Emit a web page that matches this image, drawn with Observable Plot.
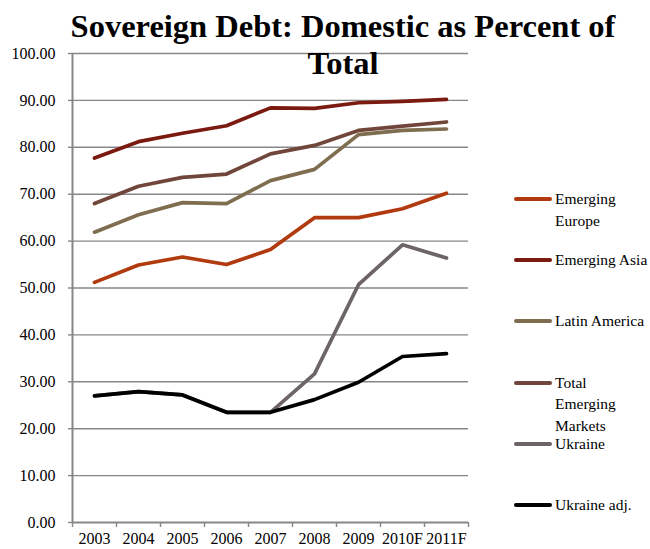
<!DOCTYPE html>
<html><head><meta charset="utf-8">
<script src="https://cdn.jsdelivr.net/npm/d3@7"></script>
<script src="https://cdn.jsdelivr.net/npm/@observablehq/plot@0.6"></script>
<style>
html,body{margin:0;padding:0;background:#fff;}
#wrap{position:relative;width:650px;height:549px;overflow:hidden;}
.title{position:absolute;left:0;width:686px;text-align:center;font-family:"Liberation Serif","Times New Roman",serif;font-weight:bold;font-size:32.5px;line-height:1;white-space:nowrap;color:#000;}
.leg{position:absolute;left:514px;font-family:"Liberation Serif","Times New Roman",serif;font-size:15.5px;line-height:21.5px;color:#000;}
.sw{position:absolute;left:0;width:38px;height:4px;border-radius:2px;}
.lt{position:absolute;left:41px;top:0;white-space:nowrap;}
</style>
</head><body>
<div id="wrap"></div>
<script>
const years = ["2003","2004","2005","2006","2007","2008","2009","2010F","2011F"];
const yTicks = [0,10,20,30,40,50,60,70,80,90,100];

const emergingEurope = [51.2,54.9,56.6,55.0,58.2,65.0,65.0,66.9,70.2];
const emergingAsia   = [77.7,81.2,83.0,84.6,88.4,88.3,89.5,89.8,90.2];
const latinAmerica   = [61.9,65.6,68.2,68.0,72.9,75.3,82.7,83.6,83.9];
const totalEM        = [68.0,71.7,73.6,74.3,78.6,80.4,83.6,84.5,85.4];
const ukraine        = [27.0,27.9,27.2,23.5,23.5,31.7,50.7,59.2,56.4];
const ukraineAdj     = [27.0,27.9,27.2,23.5,23.5,26.2,29.9,35.4,36.0];

const seriesNames = ["Emerging Europe","Emerging Asia","Latin America","Total Emerging Markets","Ukraine","Ukraine adj."];
const seriesValues = [emergingEurope,emergingAsia,latinAmerica,totalEM,ukraine,ukraineAdj];
const seriesColors = ["#B13A0F","#7A1A10","#7E6E4F","#71463A","#6C6467","#000000"];
const legendLines = [["Emerging","Europe"],["Emerging Asia"],["Latin America"],["Total","Emerging","Markets"],["Ukraine"],["Ukraine adj."]];

const data = [];
seriesNames.forEach((s, k) => seriesValues[k].forEach((v, i) => data.push({series: s, i, value: v})));

const grey = "#878787";
const chart = Plot.plot({
  width: 650, height: 549,
  marginLeft: 72, marginRight: 182, marginTop: 53, marginBottom: 27,
  style: {fontFamily: "'Liberation Serif', 'Times New Roman', serif", fontSize: "16px", color: "#000", background: "#fff"},
  x: {type: "linear", domain: [-0.5, years.length - 0.5]},
  y: {domain: [0, 100]},
  color: {domain: seriesNames, range: seriesColors},
  marks: [
    Plot.gridY(yTicks.filter(d => d > 0), {stroke: grey, strokeOpacity: 1, strokeWidth: 1.4}),
    Plot.axisY({ticks: yTicks, tickFormat: d => d.toFixed(2), tickSize: 4, tickPadding: 13, stroke: grey, strokeWidth: 1.4, label: null, fill: "#000"}),
    Plot.axisX({ticks: d3.range(-0.5, years.length, 1), tickFormat: () => "", tickSize: 5, stroke: grey, strokeWidth: 1.4, label: null}),
    Plot.axisX({ticks: d3.range(years.length), tickFormat: i => years[i], tickSize: 0, tickPadding: 10, label: null, fill: "#000"}),
    Plot.ruleY([0], {stroke: grey, strokeWidth: 2}),
    Plot.ruleX([-0.5], {stroke: grey, strokeWidth: 2}),
    Plot.line(data, {x: "i", y: "value", z: "series", stroke: "series", strokeWidth: 3.7, strokeLinejoin: "round", strokeLinecap: "round"})
  ]
});
const wrap = document.getElementById("wrap");
wrap.appendChild(chart);

const t1 = document.createElement("div");
t1.className = "title"; t1.style.top = "10px"; t1.textContent = "Sovereign Debt: Domestic as Percent of";
const t2 = document.createElement("div");
t2.className = "title"; t2.style.top = "47px"; t2.textContent = "Total";
wrap.appendChild(t1); wrap.appendChild(t2);

legendLines.forEach((lines, k) => {
  const g = document.createElement("div");
  g.className = "leg";
  g.style.top = (188 + k * 61.2) + "px";
  const sw = document.createElement("div");
  sw.className = "sw"; sw.style.background = seriesColors[k]; sw.style.top = "9px";
  const lt = document.createElement("div");
  lt.className = "lt"; lt.innerHTML = lines.join("<br>");
  g.appendChild(sw); g.appendChild(lt);
  wrap.appendChild(g);
});
</script>
</body></html>
